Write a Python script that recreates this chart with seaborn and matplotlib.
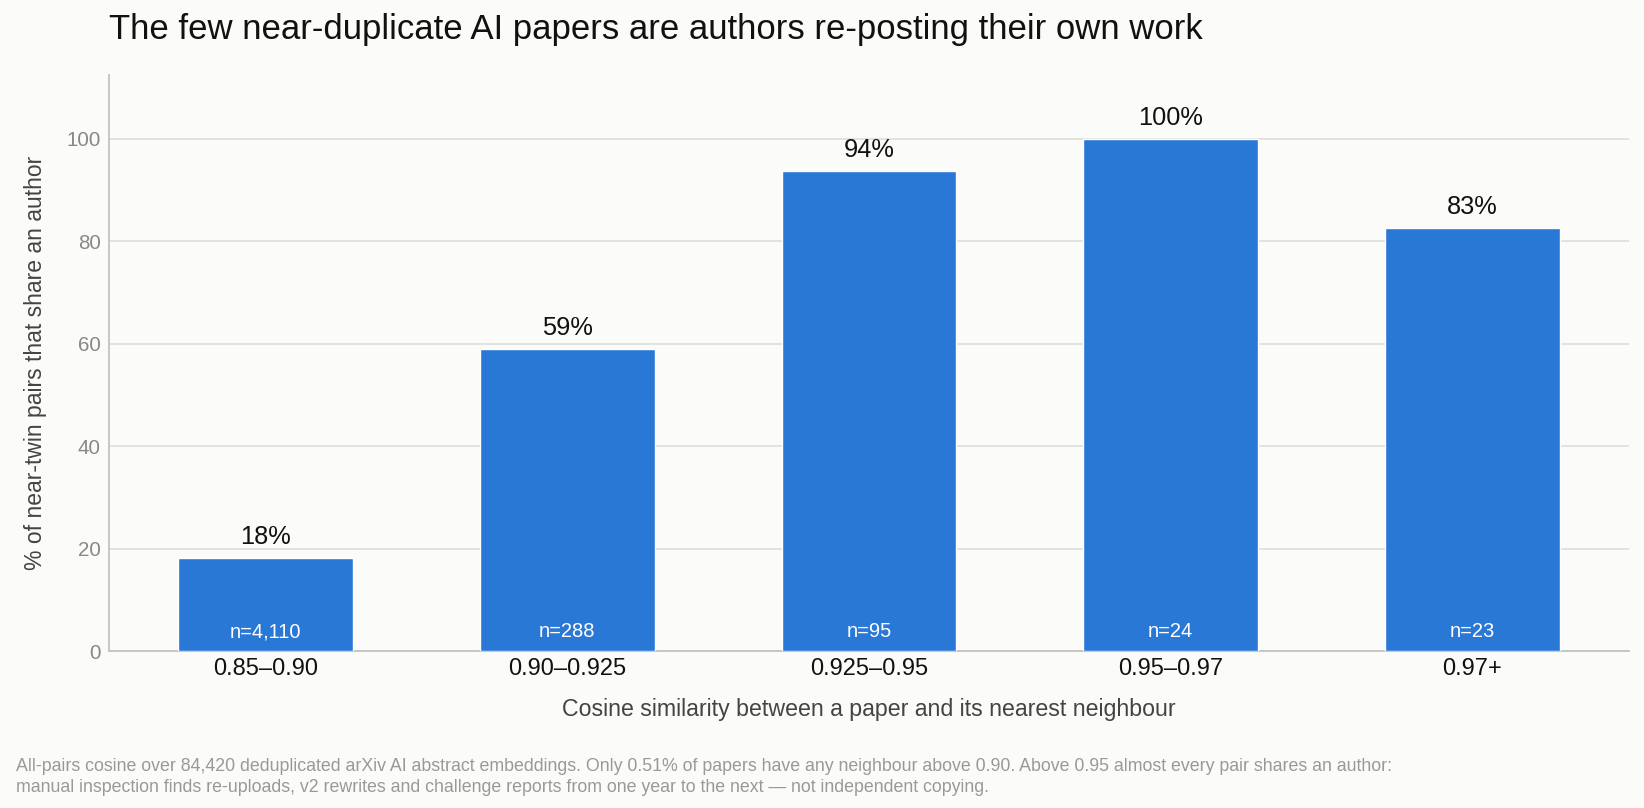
import pandas as pd
import numpy as np
import matplotlib
matplotlib.use("Agg")
import matplotlib.pyplot as plt
import seaborn as sns

# données
bins = ["0.85–0.90", "0.90–0.925", "0.925–0.95", "0.95–0.97", "0.97+"]
share_same_author = [18.2, 59.0, 93.7, 100.0, 82.6]
n_pairs = [4110, 288, 95, 24, 23]

title = "The few near-duplicate AI papers are authors re-posting their own work"
xlabel = "Cosine similarity between a paper and its nearest neighbour"
ylabel = "% of near-twin pairs that share an author"
footer = ("All-pairs cosine over 84,420 deduplicated arXiv AI abstract embeddings. Only 0.51% of papers have any "
          "neighbour above 0.90. Above 0.95 almost every pair shares an author:\n"
          "manual inspection finds re-uploads, v2 rewrites and challenge reports from one year to the next "
          "\u2014 not independent copying.")

bg = "#fbfbf9"
bar_color = "#2a78d6"

sns.set_theme(style="white")
plt.rcParams["font.family"] = ["Liberation Sans", "DejaVu Sans"]

df = pd.DataFrame({"bin": bins, "share": share_same_author, "n": n_pairs})

fig = plt.figure(figsize=(16.44, 8.08), dpi=100, facecolor=bg)
ax = fig.add_axes([0.0663, 0.1943, 0.9246, 0.7123])
ax.set_facecolor(bg)

sns.barplot(data=df, x="bin", y="share", color=bar_color, width=0.58,
            saturation=1, ax=ax, zorder=3)

ax.set_xlim(-0.52, 4.52)
ax.set_ylim(0, 112.3)
ax.set_yticks([0, 20, 40, 60, 80, 100])
ax.yaxis.grid(True, color="#e0e0dc", linewidth=1.3, zorder=0)
ax.xaxis.grid(False)
for s in ["top", "right"]:
    ax.spines[s].set_visible(False)
for s in ["left", "bottom"]:
    ax.spines[s].set_color("#c4c4bc")
    ax.spines[s].set_linewidth(1.3)
ax.tick_params(axis="y", length=0, labelsize=14.8, labelcolor="#888888", pad=6)
ax.tick_params(axis="x", length=0, labelsize=17, labelcolor="#111111", pad=5)

ax.set_xlabel(xlabel, fontsize=16.7, color="#444444", labelpad=13)
ax.set_ylabel(ylabel, fontsize=16.5, color="#444444", labelpad=14)

# étiquettes des barres
for i, (v, n) in enumerate(zip(share_same_author, n_pairs)):
    ax.annotate(f"{v:.0f}%", (i, v), xytext=(0, 6), textcoords="offset points",
                ha="center", va="bottom", fontsize=18.3, color="#111111")
    ax.annotate(f"n={n:,}", (i, 0), xytext=(0, 14), textcoords="offset points",
                ha="center", va="center", fontsize=14.5, color="white")

fig.text(109 / 1644, 1 - 29 / 808, title, fontsize=25, color="#111111", ha="left", va="center")
fig.text(16 / 1644, 1 - 777 / 808, footer, fontsize=12.8, color="#999999", ha="left", va="center",
         linespacing=1.3)

fig.savefig("out.png", dpi=100, facecolor=bg)
